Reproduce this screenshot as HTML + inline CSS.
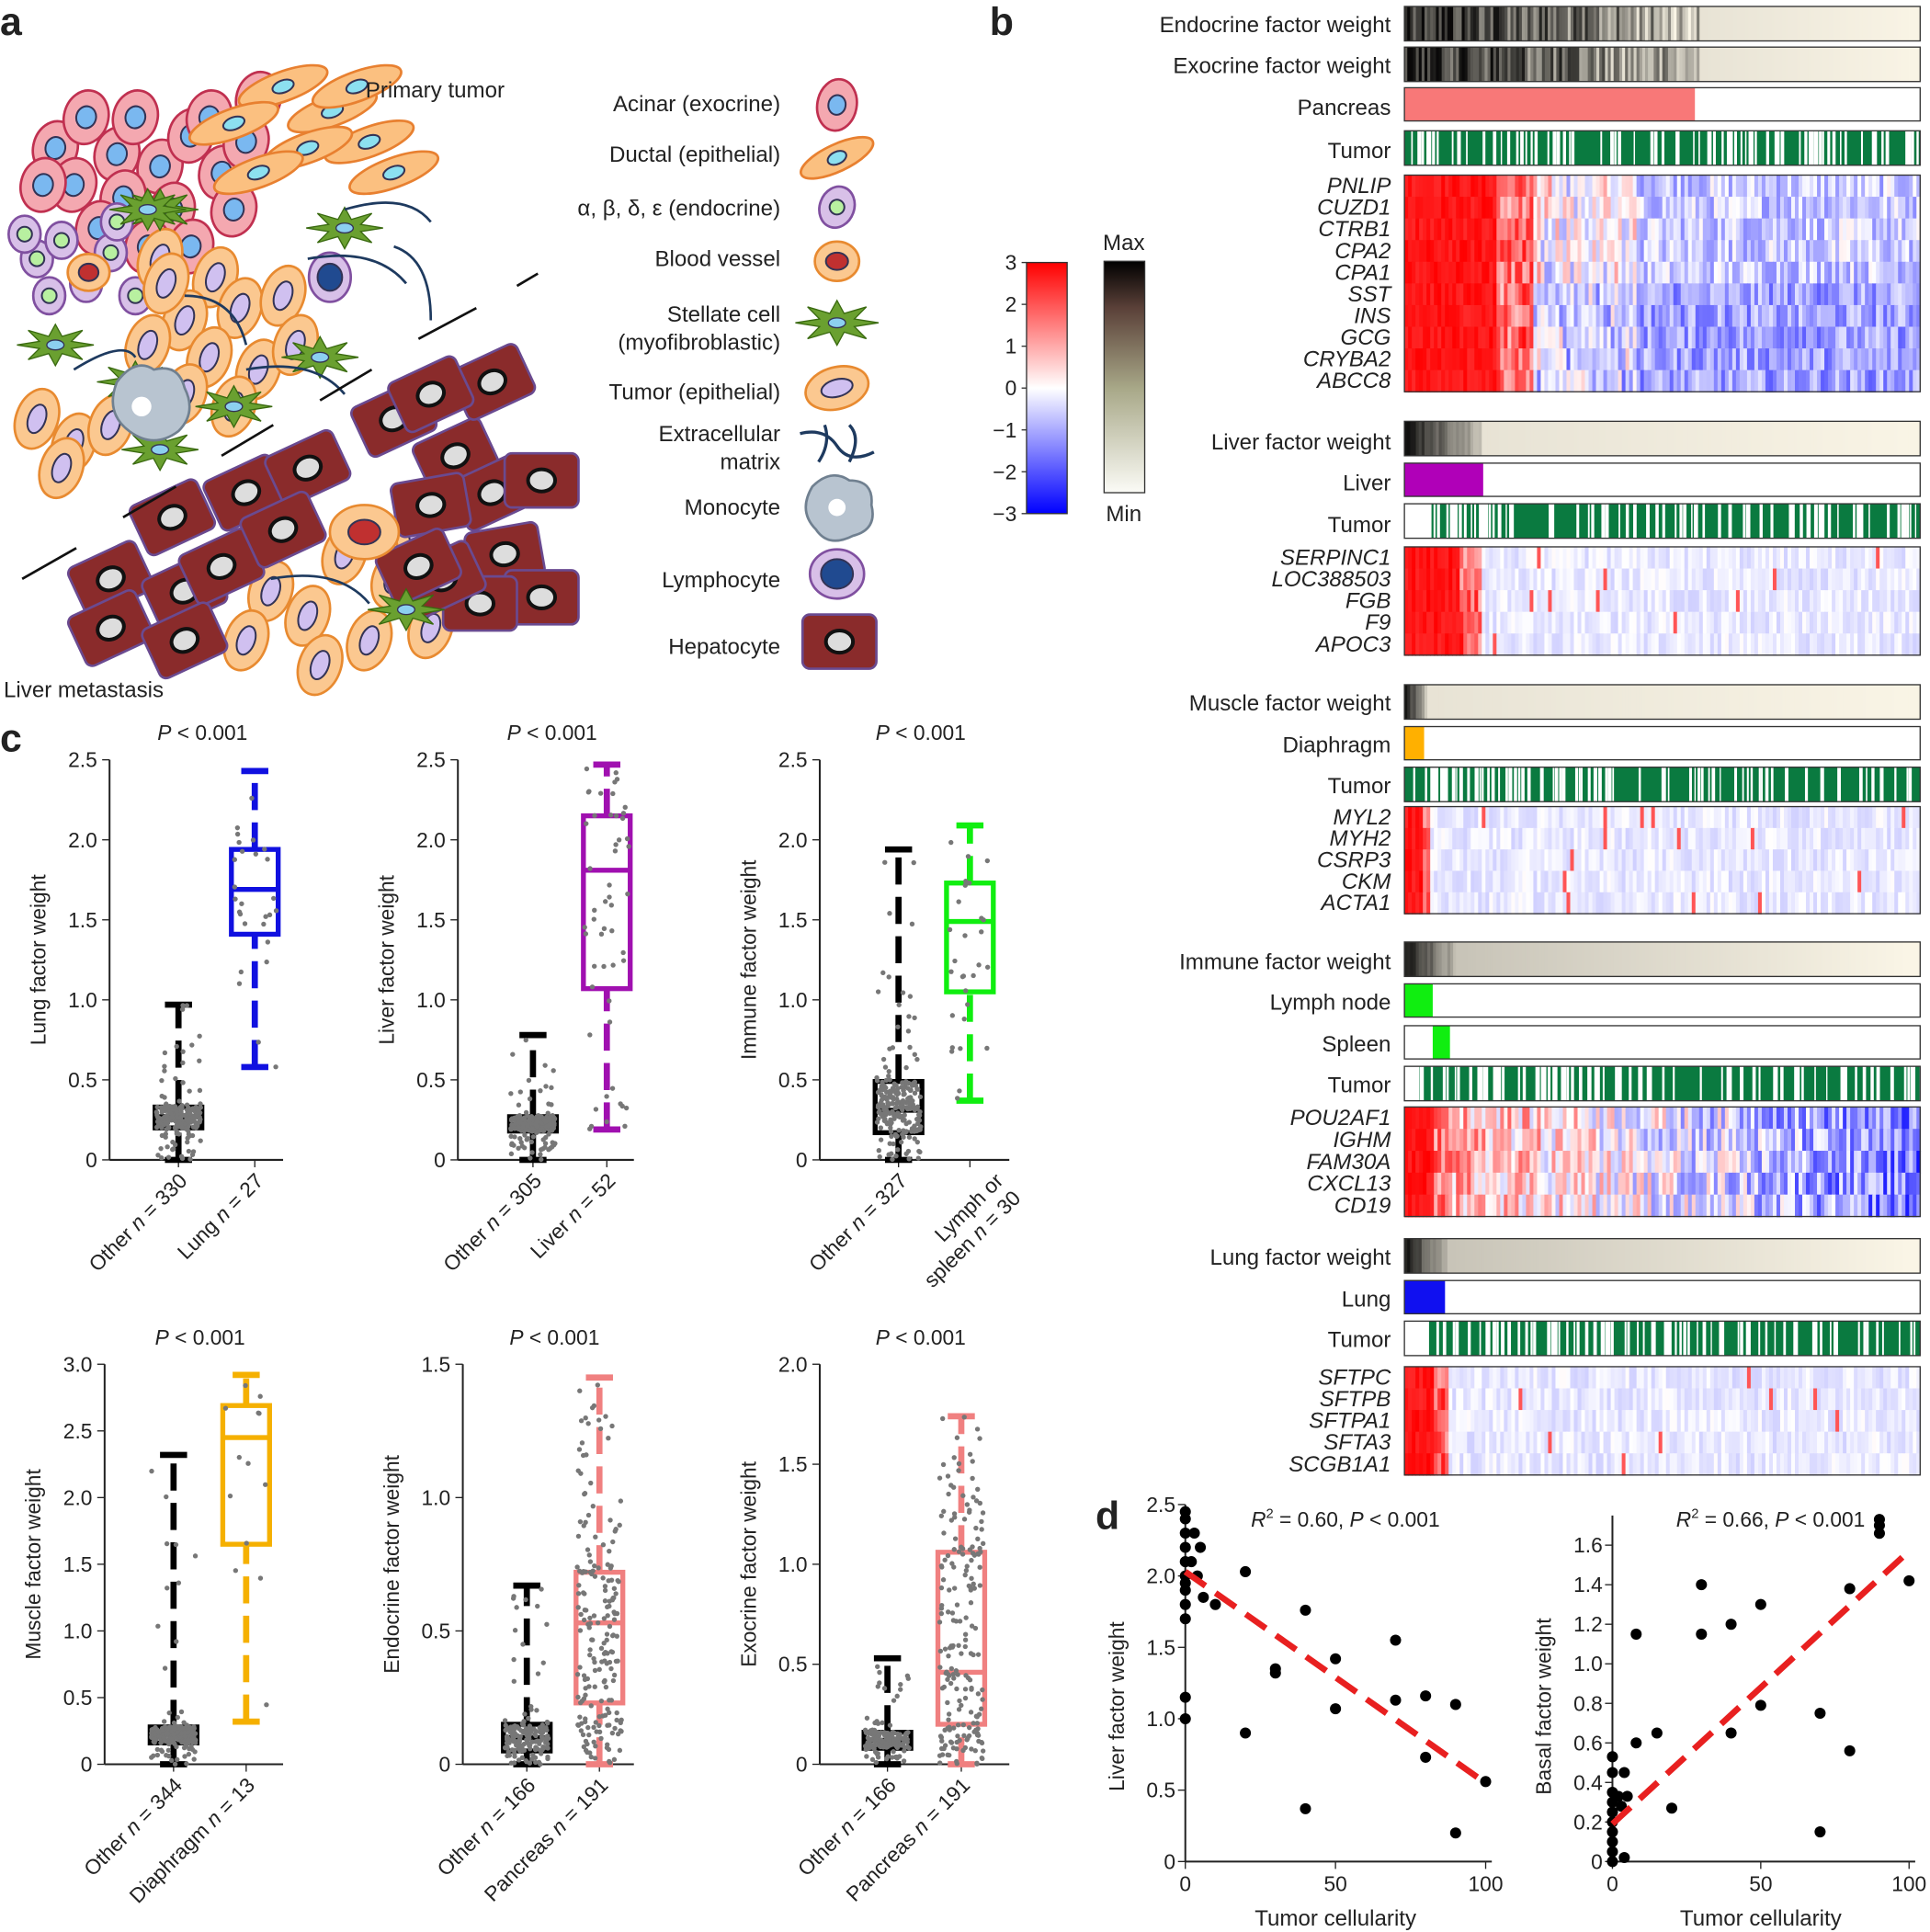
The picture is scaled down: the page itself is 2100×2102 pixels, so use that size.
<!DOCTYPE html>
<html><head><meta charset="utf-8"><style>
html,body{margin:0;padding:0;background:#fff}
svg{display:block}
text{font-family:"Liberation Sans",sans-serif;fill:#222}
</style></head><body>
<svg id="fig" xmlns="http://www.w3.org/2000/svg" width="2100" height="2102" viewBox="0 0 1568 1569">
<defs>
<linearGradient id="cbar" x1="0" x2="0" y1="0" y2="1"><stop offset="0" stop-color="#ff0000"/><stop offset="0.5" stop-color="#ffffff"/><stop offset="1" stop-color="#0000ff"/></linearGradient>
<linearGradient id="mbar" x1="0" x2="0" y1="0" y2="1"><stop offset="0" stop-color="#000"/><stop offset="0.2" stop-color="#5a4038"/><stop offset="0.55" stop-color="#a8a888"/><stop offset="1" stop-color="#fbfbf6"/></linearGradient>
</defs>
<g id="pa"></g>
<g id="pb"></g>
<g id="pc"></g>
<g id="pd"></g>
<text x="0" y="28" font-size="32" font-weight="bold">a</text>
<text x="804" y="28" font-size="32" font-weight="bold">b</text>
<text x="0" y="610" font-size="32" font-weight="bold">c</text>
<text x="890" y="1242" font-size="32" font-weight="bold">d</text>
</svg>
<script>
const NS="http://www.w3.org/2000/svg";
function mk(parent,tag,attrs,txt){const e=document.createElementNS(NS,tag);for(const k in attrs)e.setAttribute(k,attrs[k]);if(txt!==undefined)e.textContent=txt;parent.appendChild(e);return e;}
let seed=12345;function rnd(){seed=(seed*1103515245+12345)%2147483648;return seed/2147483648;}

/* ---------- Panel C data ---------- */
const boxLabels=[["Other n = 330","Lung n = 27"],["Other n = 305","Liver n = 52"],["Other n = 327","Lymph or|spleen n = 30"],["Other n = 344","Diaphragm n = 13"],["Other n = 166","Pancreas n = 191"],["Other n = 166","Pancreas n = 191"]];
const boxYTitles=["Lung factor weight","Liver factor weight","Immune factor weight","Muscle factor weight","Endocrine factor weight","Exocrine factor weight"];
const boxColors=["#1010e0","#a010b0","#10ee10","#f5b000","#f08080","#f08080"];
const boxYMax=[2.5,2.5,2.5,3.0,1.5,2.0];
const boxTickStep=[0.5,0.5,0.5,0.5,0.5,0.5];
const otherStats=[[0,0.2,0.27,0.33,0.97],[0,0.18,0.22,0.27,0.78],[0,0.17,0.31,0.49,1.94],[0,0.16,0.23,0.28,2.32],[0,0.05,0.1,0.15,0.67],[0,0.08,0.12,0.16,0.53]];
const groupStats=[[0.58,1.41,1.69,1.94,2.43],[0.19,1.07,1.81,2.15,2.47],[0.37,1.05,1.49,1.73,2.09],[0.32,1.65,2.45,2.69,2.92],[0,0.23,0.53,0.72,1.45],[0,0.2,0.46,1.06,1.74]];
const otherN=[330,305,327,344,166,166];
const groupN=[27,52,30,13,191,191];
const layout=[{ax:89,top:617,bot:942,c1:145,c2:207,xe:230},{ax:372,top:617,bot:942,c1:433,c2:493,xe:515},{ax:666,top:617,bot:942,c1:730,c2:788,xe:820},
{ax:85,top:1108,bot:1433,c1:141,c2:200,xe:230},{ax:376,top:1108,bot:1433,c1:428,c2:487,xe:515},{ax:666,top:1108,bot:1433,c1:721,c2:781,xe:820}];

/* ---------- Panel D data ---------- */
const d1x=[0,0,0,0,0,0,0,0,0,0,0,0,2,3,4,5,6,10,20,20,30,30,40,40,50,50,70,70,80,80,90,90,100];
const d1y=[2.45,2.4,2.3,2.2,2.1,2.0,1.95,1.9,1.8,1.7,1.15,1.0,2.1,2.3,2.0,2.2,1.85,1.8,2.03,0.9,1.35,1.32,1.76,0.37,1.42,1.07,1.55,1.13,1.16,0.73,1.1,0.2,0.56];
const d1fit=[2.03,0.55];
const d2x=[0,0,0,0,0,0,0,0,0,0,2,3,4,4,5,8,8,15,20,30,30,40,40,50,50,70,70,80,80,90,90,90,100];
const d2y=[0.53,0.45,0.35,0.3,0.25,0.2,0.15,0.1,0.05,0,0.33,0.28,0.45,0.02,0.33,0.6,1.15,0.65,0.27,1.4,1.15,1.2,0.65,1.3,0.79,0.75,0.15,1.38,0.56,1.73,1.7,1.66,1.42];
const d2fit=[0.19,1.57];

/* ---------- Panel B data ---------- */
const bandNames=["Endocrine factor weight","Exocrine factor weight","Liver factor weight","Muscle factor weight","Immune factor weight","Lung factor weight"];
const genesPanc=["PNLIP","CUZD1","CTRB1","CPA2","CPA1","SST","INS","GCG","CRYBA2","ABCC8"];
const genesLiver=["SERPINC1","LOC388503","FGB","F9","APOC3"];
const genesMuscle=["MYL2","MYH2","CSRP3","CKM","ACTA1"];
const genesImmune=["POU2AF1","IGHM","FAM30A","CXCL13","CD19"];
const genesLung=["SFTPC","SFTPB","SFTPA1","SFTA3","SCGB1A1"];
const redFrac=[0.25,0.15,0.05,0.08,0.08];

/* ===== Panel B drawing ===== */
const pb=document.getElementById('pb');
const BX=1141,BW=419;
function label(y,t,it){const e=mk(pb,'text',{x:1130,y:y,'font-size':18,'text-anchor':'end','font-style':it?'italic':'normal'},t);

}
function frame(y,h){mk(pb,'rect',{x:BX,y:y,width:BW,height:h,fill:'none',stroke:'#333','stroke-width':1});}
function weightBar(y,dark,name,fade){
 const g=mk(pb,'g',{});
 
 
 const n=180;for(let i=0;i<n;i++){let f=i/n;let v;
  if(f<dark){v=25+(f/dark)*170+(rnd()-0.5)*(dark>0.3?170:40);}else{v=fade?(200+(f-dark)/(1-dark)*52):(232+(f-dark)/(1-dark)*18);}
  v=Math.max(10,Math.min(250,v));const c=`rgb(${v|0},${(v*0.98)|0},${(v*0.92)|0})`;
  mk(g,'rect',{x:BX+i*BW/n,y:y,width:BW/n+0.6,height:28,fill:c});}
 frame(y,28);}
function catBar(y,x0,x1,col,name){const g=mk(pb,'g',{});
 
 
 mk(g,'rect',{x:BX,y:y,width:BW,height:27,fill:'#fff'});mk(g,'rect',{x:x0,y:y,width:x1-x0,height:27,fill:col});frame(y,27);}
function tumorBar(y,startBlank){const g=mk(pb,'g',{});
 
 
 mk(g,'rect',{x:BX,y:y,width:BW,height:28,fill:'#0a7a40'});
 if(startBlank)mk(g,'rect',{x:BX,y:y,width:startBlank,height:28,fill:'#fff'});
 for(let i=0;i<90;i++){const x=BX+startBlank+rnd()*(BW-startBlank);mk(g,'rect',{x:x,y:y,width:1+rnd()*2,height:28,fill:'#fff'});}
 frame(y,28);}
function heat(y,genes,rowH,rf,kind,name){const g=mk(pb,'g',{});
 
 
 const n=140,cw=BW/n;
 genes.forEach((gn,r)=>{for(let i=0;i<n;i++){const f=i/n;let v;
  if(f<rf)v=2.5+rnd()*0.5-(f>rf*0.7?rnd()*2:0);
  else{ if(kind==='panc'){v=(r>=5?-1.1:-0.6)+(rnd()-0.5)*1.6 + (f<0.45?(rnd()*1.3):0);}
   else if(kind==='imm'){v=(1.3-3.0*f)+(rnd()-0.5)*2.4;}
   else {v=-0.25+(rnd()-0.5)*0.6; if(rnd()<0.02)v=2;}}
  v=Math.max(-3,Math.min(3,v));let c;
  if(v>=0){const t=v/3;c=`rgb(255,${(255*(1-t))|0},${(255*(1-t))|0})`;}else{const t=-v/3;c=`rgb(${(255*(1-t))|0},${(255*(1-t))|0},255)`;}
  mk(g,'rect',{x:BX+i*cw,y:y+r*rowH,width:cw+0.6,height:rowH+0.6,fill:c});}
  label(y+r*rowH+rowH-3,gn,true);});
 frame(y,genes.length*rowH);}
label(26,bandNames[0]);weightBar(5,0.57,'endocrine-weight-bar');
label(59,bandNames[1]);weightBar(38,0.57,'exocrine-weight-bar');
label(93,"Pancreas");catBar(71,BX,1377,'#f87878','pancreas-bar');
label(128,"Tumor");tumorBar(106,0);
heat(142,genesPanc,17.6,redFrac[0],'panc','heatmap-pancreas');
label(365,bandNames[2]);weightBar(342,0.15,'liver-weight-bar');
label(398,"Liver");catBar(376,BX,1205,'#b000b8','liver-bar');
label(432,"Tumor");tumorBar(409,22);
heat(444,genesLiver,17.6,redFrac[1],'flat','heatmap-liver');
label(577,bandNames[3]);weightBar(556,0.04,'muscle-weight-bar');
label(611,"Diaphragm");catBar(590,BX,1157,'#ffb000','diaphragm-bar');
label(644,"Tumor");tumorBar(623,0);
heat(655,genesMuscle,17.4,redFrac[2],'flat','heatmap-muscle');
label(787,bandNames[4]);weightBar(765,0.1,'immune-weight-bar',true);
label(820,"Lymph node");catBar(799,BX,1164,'#10ee10','lymph-node-bar');
label(854,"Spleen");catBar(833,1164,1178,'#10ee10','spleen-bar');
label(887,"Tumor");tumorBar(866,12);
heat(899,genesImmune,17.8,redFrac[3],'imm','heatmap-immune');
label(1027,bandNames[5]);weightBar(1006,0.08,'lung-weight-bar',true);
label(1061,"Lung");catBar(1040,BX,1174,'#1010f0','lung-bar');
label(1094,"Tumor");tumorBar(1073,20);
heat(1110,genesLung,17.6,redFrac[4],'flat','heatmap-lung');
mk(pb,'rect',{x:834,y:213,width:33,height:204,fill:'url(#cbar)',stroke:'#333'});
[3,2,1,0,-1,-2,-3].forEach((t,i)=>{const y=213+i*204/6;mk(pb,'line',{x1:830,x2:834,y1:y,y2:y,stroke:'#333'});
 const e=mk(pb,'text',{x:826,y:y+6,'font-size':17,'text-anchor':'end'},t<0?'\u2212'+(-t):t);
 
 });
mk(pb,'rect',{x:897,y:212,width:33,height:188,fill:'url(#mbar)',stroke:'#333'});
mk(pb,'text',{x:913,y:203,'font-size':18,'text-anchor':'middle'},'Max');
mk(pb,'text',{x:913,y:423,'font-size':18,'text-anchor':'middle'},'Min');

/* ===== Panel C drawing ===== */
const pc=document.getElementById('pc');
layout.forEach((L,k)=>{const g=mk(pc,'g',{});
 
 
 const ys=v=>L.bot-(v/boxYMax[k])*(L.bot-L.top);
 mk(g,'line',{x1:L.ax,x2:L.ax,y1:L.top,y2:L.bot,stroke:'#222','stroke-width':1.5});
 mk(g,'line',{x1:L.ax,x2:L.xe,y1:L.bot,y2:L.bot,stroke:'#222','stroke-width':1.5});
 for(let v=0;v<=boxYMax[k]+1e-6;v+=boxTickStep[k]){const y=ys(v);mk(g,'line',{x1:L.ax-6,x2:L.ax,y1:y,y2:y,stroke:'#222'});
  const t=mk(g,'text',{x:L.ax-10,y:y+6,'font-size':17,'text-anchor':'end'},v===0?'0':v.toFixed(1));
  
  }
 [L.c1,L.c2].forEach(c=>mk(g,'line',{x1:c,x2:c,y1:L.bot,y2:L.bot+6,stroke:'#222'}));
 const yt=mk(g,'text',{x:0,y:0,'font-size':17,'text-anchor':'middle',transform:`translate(${L.ax-52},${(L.top+L.bot)/2}) rotate(-90)`},boxYTitles[k]);
 
 
 const pt=mk(g,'text',{x:(L.ax+L.xe)/2+5,y:L.top-16,'font-size':17,'text-anchor':'middle'});
 mk(pt,'tspan',{'font-style':'italic'},'P');mk(pt,'tspan',{},' < 0.001');
 
 
 const draw=(c,s,col,n,isOther)=>{
  const w=38;
  mk(g,'line',{x1:c,x2:c,y1:ys(s[0]),y2:ys(s[1]),stroke:col,'stroke-width':5,'stroke-dasharray':'22,10'});
  mk(g,'line',{x1:c,x2:c,y1:ys(s[3]),y2:ys(s[4]),stroke:col,'stroke-width':5,'stroke-dasharray':'22,10'});
  mk(g,'line',{x1:c-11,x2:c+11,y1:ys(s[4]),y2:ys(s[4]),stroke:col,'stroke-width':5});
  mk(g,'line',{x1:c-11,x2:c+11,y1:ys(s[0]),y2:ys(s[0]),stroke:col,'stroke-width':5});
  mk(g,'rect',{x:c-w/2,y:ys(s[3]),width:w,height:ys(s[1])-ys(s[3]),fill:'none',stroke:col,'stroke-width':4});
  mk(g,'line',{x1:c-w/2,x2:c+w/2,y1:ys(s[2]),y2:ys(s[2]),stroke:col,'stroke-width':4});
  const m=Math.min(n,220);
  for(let i=0;i<m;i++){let v;const r=rnd();
   if(isOther){if(r<0.72)v=s[1]+rnd()*(s[3]-s[1]);else if(r<0.88)v=s[0]+rnd()*(s[1]-s[0]);else v=s[3]+Math.pow(rnd(),2.5)*(s[4]-s[3]);}
   else{if(r<0.5)v=s[1]+rnd()*(s[3]-s[1]);else if(r<0.75)v=s[0]+rnd()*(s[1]-s[0]);else v=s[3]+Math.pow(rnd(),1.8)*(s[4]-s[3]);}
   mk(g,'circle',{cx:c+(rnd()-0.5)*36,cy:ys(v),r:2,fill:'#777'});}
 };
 draw(L.c1,otherStats[k],'#000',otherN[k],true);
 draw(L.c2,groupStats[k],boxColors[k],groupN[k],false);
 boxLabels[k].forEach((lb,j)=>{const c=j?L.c2:L.c1;const parts=lb.split('|');
  const t=mk(g,'text',{x:0,y:0,'font-size':17,'text-anchor':'end',transform:`translate(${c+8},${L.bot+18}) rotate(-45)`});
  
  
  parts.forEach((p,pi)=>{const ts=mk(t,'tspan',{x:0,dy:pi?20:0});
   const m2=p.match(/^(.*)n = (.*)$/);
   if(m2){mk(ts,'tspan',{},m2[1]);mk(ts,'tspan',{'font-style':'italic'},'n');mk(ts,'tspan',{},' = '+m2[2]);}else ts.textContent=p;});
  if(parts.length>1)t.setAttribute('transform',`translate(${c+28},${L.bot+18}) rotate(-45)`);
 });
});

/* ===== Panel D drawing ===== */
const pd=document.getElementById('pd');
function scat(xs,ysv,fit,ax,xr,ymax,step,ytitle,r2,name){const g=mk(pd,'g',{});
 
 
 const bot=1512;
 const yTop=ymax===2.5?1222:1512-(1512-1255)/1.6*1.75;
 const X=v=>ax+v/100*(xr-ax);
 const Y=ymax===2.5?(v=>bot-v/2.5*(bot-1222)):(v=>bot-v/1.6*(bot-1255));
 mk(g,'line',{x1:ax,x2:ax,y1:yTop,y2:bot,stroke:'#222','stroke-width':1.5});
 mk(g,'line',{x1:ax,x2:xr+5,y1:bot,y2:bot,stroke:'#222','stroke-width':1.5});
 for(let v=0;v<=ymax+1e-6;v+=step){const y=Y(v);mk(g,'line',{x1:ax-6,x2:ax,y1:y,y2:y,stroke:'#222'});
  const t=mk(g,'text',{x:ax-8,y:y+6,'font-size':17,'text-anchor':'end'},v<1e-9?'0':v.toFixed(1));
  
  }
 [0,50,100].forEach(v=>{mk(g,'line',{x1:X(v),x2:X(v),y1:bot,y2:bot+6,stroke:'#222'});
  const t=mk(g,'text',{x:X(v),y:bot+24,'font-size':17,'text-anchor':'middle'},v);
  
  });
 mk(g,'text',{x:(ax+xr)/2,y:1564,'font-size':18,'text-anchor':'middle'},'Tumor cellularity');
 mk(g,'text',{x:0,y:0,'font-size':17,'text-anchor':'middle',transform:`translate(${ax-50},${(1240+bot)/2+10}) rotate(-90)`},ytitle);
 const rt=mk(g,'text',{x:(ax+xr)/2+8,y:1240,'font-size':17,'text-anchor':'middle'});
 mk(rt,'tspan',{'font-style':'italic'},'R');mk(rt,'tspan',{'font-size':11,dy:-7},'2');mk(rt,'tspan',{dy:7},' = '+r2+', ');mk(rt,'tspan',{'font-style':'italic'},'P');mk(rt,'tspan',{},' < 0.001');
 xs.forEach((x,i)=>{const c=mk(g,'circle',{cx:X(x),cy:Y(ysv[i]),r:4.5,fill:'#000'});
  
  });
 mk(g,'line',{x1:X(0),y1:Y(fit[0]),x2:X(100),y2:Y(fit[1]),stroke:'#e82020','stroke-width':5,'stroke-dasharray':'20,10'});
}
scat(d1x,d1y,d1fit,963,1207,2.5,0.5,'Liver factor weight','0.60','scatter-liver');
scat(d2x,d2y,d2fit,1310,1551,1.6,0.2,'Basal factor weight','0.66','scatter-basal');

/* ===== Panel A drawing ===== */
const pa=document.getElementById('pa');
function cell(x,y,rx,ry,rot,fill,stroke,nf,nr){const g=mk(pa,'g',{transform:`translate(${x},${y}) rotate(${rot})`});
 mk(g,'ellipse',{cx:0,cy:0,rx:rx,ry:ry,fill:fill,stroke:stroke,'stroke-width':2});
 mk(g,'ellipse',{cx:0,cy:0,rx:nr[0],ry:nr[1],fill:nf,stroke:'#335','stroke-width':1.5});}
function hep(x,y,rot){const g=mk(pa,'g',{transform:`translate(${x},${y}) rotate(${rot})`});
 mk(g,'rect',{x:-30,y:-22,width:60,height:44,rx:6,fill:'#8a2b2b',stroke:'#6a4a90','stroke-width':2});
 mk(g,'ellipse',{cx:0,cy:0,rx:11,ry:9,fill:'#ddd',stroke:'#111','stroke-width':3});}
function star(x,y,s){let p=[];for(let i=0;i<16;i++){const a=i*Math.PI/8,r=i%2?s*0.45:s;p.push((x+r*1.3*Math.cos(a)).toFixed(1)+','+(y+r*0.7*Math.sin(a)).toFixed(1));}
 mk(pa,'polygon',{points:p.join(' '),fill:'#6aa030',stroke:'#3a6a10'});
 mk(pa,'ellipse',{cx:x,cy:y,rx:7,ry:4,fill:'#8cd0f0',stroke:'#335'});}
const acinar=[[45,120],[70,95],[95,125],[60,150],[110,95],[130,135],[155,110],[100,160],[80,185],[140,170],[180,140],[170,95],[200,115],[120,200],[35,150],[190,170],[155,200],[210,80]];
acinar.forEach(p=>cell(p[0],p[1],18,22,15,'#f4a8b0','#c03050','#7ab8f0',[8,9]));
const duct=[[230,70],[270,90],[300,115],[250,120],[210,140],[320,140],[190,100],[290,70]];
duct.forEach(p=>cell(p[0],p[1],38,12,-20,'#fbc080','#e88030','#8ce0f0',[9,5]));
const endo=[[30,210],[50,195],[70,230],[90,205],[110,240],[40,240],[95,180],[20,190]];
endo.forEach(p=>cell(p[0],p[1],13,15,0,'#d8c0e8','#8050a0','#b8f0a0',[6,6]));
const tumor=[[30,340],[60,360],[90,345],[50,380],[130,210],[175,225],[150,260],[195,250],[230,240],[170,290],[210,300],[150,320],[190,330],[240,280],[120,280],[280,450],[320,470],[250,500],[300,520],[260,540],[220,480],[340,430],[350,510],[200,520],[135,230],[230,420]];
tumor.forEach(p=>cell(p[0],p[1],17,25,20,'#fbc890','#e88a30','#d0c0f0',[7,12]));
const heps=[[90,470,-25],[150,480,-25],[140,420,-25],[200,400,-25],[250,380,-25],[180,460,-25],[90,510,-25],[150,520,-25],[230,430,-25],[320,340,-25],[370,370,-25],[400,310,-25],[350,320,-25],[400,400,-25],[440,390,0],[350,410,-10],[410,450,-10],[440,485,0],[390,490,0],[360,470,-25],[340,460,-25]];
heps.forEach(p=>hep(p[0],p[1],p[2]));
[[130,170],[280,185],[45,280],[110,310],[260,290],[190,330],[130,365],[330,495],[120,170]].forEach(p=>star(p[0],p[1],24));
cell(296,432,28,22,0,'#fbc890','#e88a30','#c03030',[13,10]);
cell(72,221,17,15,0,'#fbc890','#e88a30','#c03030',[8,7]);
cell(268,225,17,20,0,'#d8c0e8','#8050a0','#204a90',[10,11]);
mk(pa,'path',{d:'M95,310 q15,-20 30,-10 q20,-5 25,15 q10,20 -5,35 q-20,15 -40,0 q-20,-15 -10,-40z',fill:'#b8c4d0',stroke:'#708090','stroke-width':2});
mk(pa,'circle',{cx:115,cy:330,r:8,fill:'#fff'});
[[250,210,330,230],[320,200,350,260],[150,240,200,280],[60,300,110,290],[200,300,280,320],[220,470,300,490],[280,170,350,180]].forEach(l=>mk(pa,'path',{d:`M${l[0]},${l[1]} Q${(l[0]+l[2])/2+15},${(l[1]+l[3])/2-20} ${l[2]},${l[3]}`,fill:'none',stroke:'#1e3a5f','stroke-width':2}));
[[18,470,62,445],[100,420,143,395],[180,370,222,345],[260,325,302,300],[340,275,387,250],[420,232,437,222]].forEach(l=>mk(pa,'line',{x1:l[0],y1:l[1],x2:l[2],y2:l[3],stroke:'#111','stroke-width':2}));
mk(pa,'text',{x:297,y:79,'font-size':18},'Primary tumor');
mk(pa,'text',{x:3,y:566,'font-size':18},'Liver metastasis');
const leg=[["Acinar (exocrine)",90],["Ductal (epithelial)",131],["\u03b1, \u03b2, \u03b4, \u03b5 (endocrine)",175],["Blood vessel",216],["Stellate cell",261],["(myofibroblastic)",284],["Tumor (epithelial)",324],["Extracellular",358],["matrix",381],["Monocyte",418],["Lymphocyte",477],["Hepatocyte",531]];
leg.forEach(l=>{const t=mk(pa,'text',{x:634,y:l[1],'font-size':18,'text-anchor':'end'},l[0]);
 
 });
cell(680,85,16,21,10,'#f4a8b0','#c03050','#7ab8f0',[7,8]);
cell(680,128,32,11,-25,'#fbc080','#e88030','#8ce0f0',[8,5]);
cell(680,168,14,17,20,'#d8c0e8','#8050a0','#b8f0a0',[6,6]);
cell(680,212,18,16,0,'#fbc890','#e88a30','#c03030',[9,7]);
star(680,262,26);
cell(680,315,26,17,-15,'#fbc890','#e88a30','#d0c0f0',[13,7]);
mk(pa,'path',{d:'M650,352 q20,-5 30,10 q10,15 30,5 M670,345 q5,15 -5,30 M690,345 q10,10 0,30',fill:'none',stroke:'#1e3a5f','stroke-width':2.5});
mk(pa,'path',{d:'M660,395 q15,-15 30,-5 q20,0 18,20 q5,20 -15,25 q-20,10 -30,-5 q-15,-15 -3,-35z',fill:'#b8c4d0',stroke:'#708090','stroke-width':2});
mk(pa,'circle',{cx:680,cy:412,r:7,fill:'#fff'});
cell(680,466,22,20,0,'#d8c0e8','#8050a0','#204a90',[13,12]);
hep(682,521,0);
</script>
</body></html>
